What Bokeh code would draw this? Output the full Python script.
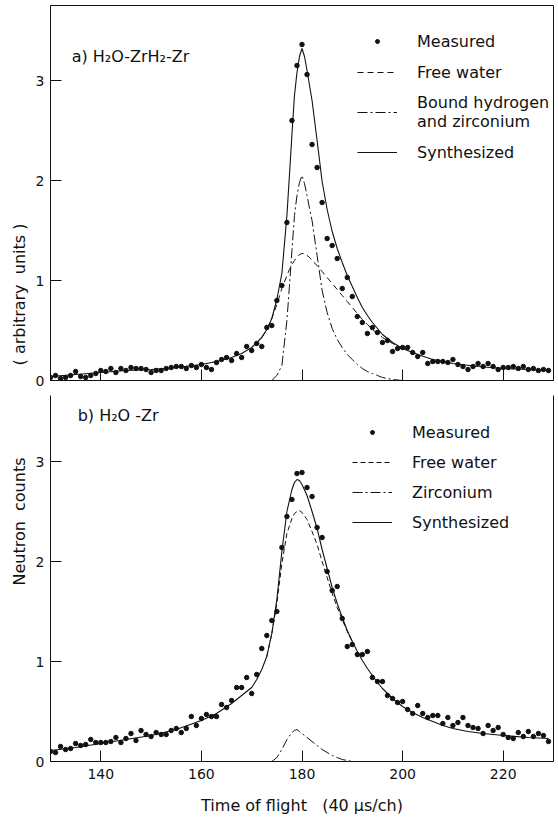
import numpy as np
from bokeh.plotting import figure
from bokeh.models import Range1d, FixedTicker, Legend, LegendItem, Label, LinearAxis
from bokeh.layouts import row, column
from bokeh.embed import file_html
from bokeh.resources import INLINE

FONT = "DejaVu Sans"
INK = "#111111"
NB = "\u00a0"

# ---------------- data ----------------
channels = list(range(130, 230))

# panel a) H2O-ZrH2-Zr
a_measured = [0.03, 0.05, 0.02, 0.03, 0.05, 0.09, 0.04, 0.03, 0.05, 0.07,
              0.10, 0.09, 0.12, 0.08, 0.12, 0.10, 0.13, 0.12, 0.12, 0.11,
              0.08, 0.10, 0.10, 0.12, 0.13, 0.14, 0.14, 0.12, 0.15, 0.13,
              0.16, 0.13, 0.11, 0.18, 0.21, 0.23, 0.20, 0.27, 0.23, 0.34,
              0.30, 0.37, 0.34, 0.53, 0.55, 0.80, 0.95, 1.58, 2.60, 3.15,
              3.36, 3.06, 2.36, 2.13, 1.78, 1.42, 1.35, 1.22, 0.92, 1.03,
              0.84, 0.64, 0.58, 0.47, 0.53, 0.48, 0.38, 0.40, 0.29, 0.32,
              0.33, 0.33, 0.28, 0.24, 0.28, 0.17, 0.19, 0.19, 0.19, 0.18,
              0.21, 0.16, 0.14, 0.11, 0.14, 0.17, 0.14, 0.17, 0.14, 0.11,
              0.13, 0.13, 0.14, 0.12, 0.14, 0.11, 0.12, 0.10, 0.11, 0.10]

a_synth_x = [130, 135, 140, 145, 150, 155, 160, 163, 166, 168, 170, 172, 173, 174,
             175, 176, 177, 177.5, 178, 178.5, 179, 179.5, 180, 180.5, 181, 181.5,
             182, 183, 184, 185, 186, 187, 188, 189, 190, 191, 192, 193, 194, 195,
             196, 198, 200, 203, 206, 210, 215, 220, 225, 229]
a_synth_y = [0.04, 0.06, 0.08, 0.10, 0.11, 0.13, 0.16, 0.19, 0.23, 0.27, 0.33, 0.43, 0.51, 0.62,
             0.81, 1.07, 1.65, 2.05, 2.46, 2.85, 3.08, 3.24, 3.32, 3.24, 3.10, 2.95,
             2.80, 2.40, 1.99, 1.71, 1.49, 1.32, 1.18, 1.05, 0.94, 0.83, 0.73, 0.65, 0.58, 0.52,
             0.46, 0.38, 0.32, 0.26, 0.21, 0.17, 0.14, 0.12, 0.11, 0.10]

a_free_x = [172, 173, 174, 175, 176, 177, 177.5, 178, 178.5, 179, 179.5, 180, 180.5,
            181, 181.5, 182, 183, 184, 185, 186, 187, 188, 189, 190, 191, 192, 193,
            194, 195, 196, 198, 200]
a_free_y = [0.43, 0.51, 0.62, 0.76, 0.92, 1.05, 1.11, 1.16, 1.20, 1.23, 1.26, 1.27, 1.27,
            1.25, 1.23, 1.20, 1.15, 1.09, 1.03, 0.97, 0.91, 0.85, 0.79, 0.73, 0.67, 0.61, 0.56,
            0.51, 0.47, 0.43, 0.37, 0.32]

a_bound_x = [174, 175, 176, 177, 177.5, 178, 178.5, 179, 179.5, 180, 180.5, 181, 181.5,
             182, 183, 184, 185, 186, 187, 188, 189, 190, 191, 192, 193, 194, 195,
             196, 198, 200]
a_bound_y = [0.0, 0.05, 0.15, 0.60, 0.94, 1.30, 1.65, 1.85, 1.98, 2.05, 1.97, 1.85, 1.72,
             1.60, 1.25, 0.90, 0.68, 0.52, 0.41, 0.33, 0.26, 0.21, 0.16, 0.12, 0.09, 0.07, 0.05,
             0.03, 0.01, 0.0]

# panel b) H2O-Zr
b_measured = [0.10, 0.09, 0.15, 0.12, 0.13, 0.18, 0.16, 0.17, 0.22, 0.19,
              0.19, 0.19, 0.20, 0.24, 0.19, 0.23, 0.28, 0.21, 0.31, 0.27,
              0.25, 0.29, 0.27, 0.27, 0.31, 0.33, 0.29, 0.33, 0.45, 0.36,
              0.43, 0.47, 0.45, 0.45, 0.57, 0.54, 0.61, 0.74, 0.74, 0.84,
              0.68, 0.87, 1.13, 1.26, 1.41, 1.50, 2.14, 2.45, 2.62, 2.88,
              2.89, 2.74, 2.65, 2.34, 2.24, 1.90, 1.71, 1.75, 1.43, 1.15,
              1.17, 1.07, 1.07, 1.10, 0.84, 0.80, 0.80, 0.66, 0.63, 0.59,
              0.60, 0.52, 0.48, 0.56, 0.48, 0.44, 0.46, 0.46, 0.38, 0.44,
              0.36, 0.39, 0.44, 0.36, 0.34, 0.33, 0.28, 0.36, 0.31, 0.34,
              0.27, 0.24, 0.23, 0.29, 0.25, 0.30, 0.25, 0.28, 0.26, 0.20]

b_synth_x = [130, 135, 140, 145, 150, 155, 160, 163, 166, 168, 170, 171, 172, 173, 174,
             175, 176, 177, 178, 178.5, 179, 179.5, 180, 181, 182, 183, 184, 185, 186,
             187, 188, 189, 190, 191, 192, 193, 194, 195, 196, 198, 200, 202, 204, 206,
             208, 210, 213, 216, 220, 225, 229]
b_synth_y = [0.11, 0.14, 0.18, 0.22, 0.26, 0.32, 0.41, 0.48, 0.58, 0.66, 0.74, 0.82, 0.92, 1.05, 1.28,
             1.62, 2.10, 2.50, 2.72, 2.79, 2.82, 2.81, 2.77, 2.66, 2.50, 2.33, 2.12, 1.93, 1.74,
             1.58, 1.44, 1.31, 1.20, 1.10, 1.01, 0.93, 0.86, 0.79, 0.73, 0.63, 0.55, 0.49, 0.44, 0.40,
             0.36, 0.33, 0.30, 0.28, 0.26, 0.24, 0.23]

b_free_x = [173, 174, 175, 176, 177, 178, 178.5, 179, 179.5, 180, 181, 182, 183, 184,
            185, 186, 187, 188, 189, 190]
b_free_y = [1.05, 1.28, 1.58, 1.98, 2.28, 2.43, 2.48, 2.50, 2.51, 2.49, 2.42, 2.30, 2.17, 2.00,
            1.84, 1.68, 1.54, 1.42, 1.30, 1.20]

b_zr_x = [174, 175, 176, 177, 178, 178.5, 179, 179.5, 180, 181, 182, 183, 184, 185,
          186, 187, 188, 189, 190]
b_zr_y = [0.0, 0.04, 0.12, 0.22, 0.29, 0.31, 0.32, 0.30, 0.28, 0.24, 0.20, 0.16, 0.12, 0.09,
          0.06, 0.04, 0.02, 0.01, 0.0]

x_ticks = [140, 160, 180, 200, 220]
y_ticks = [0, 1, 2, 3]

STRIP = 32          # width of the shared y-label strip
MAIN_W = 558 - STRIP

# ---------------- figures ----------------
def base_fig(height, ymax, border_bottom):
    p = figure(width=MAIN_W, height=height, x_range=Range1d(130, 230), y_range=Range1d(0, ymax),
               output_backend="svg", toolbar_location=None,
               min_border_left=50 - STRIP, min_border_right=5, min_border_top=5,
               min_border_bottom=border_bottom)
    p.grid.visible = False
    p.outline_line_color = INK
    for ax in (p.xaxis, p.yaxis):
        ax.axis_line_color = INK
        ax.major_tick_line_color = INK
        ax.major_tick_in = 11
        ax.major_tick_out = 0
        ax.minor_tick_line_color = None
        ax.major_label_text_font = FONT
        ax.major_label_text_font_size = "14px"
        ax.major_label_text_color = INK
    p.xaxis.ticker = FixedTicker(ticks=x_ticks)
    p.yaxis.ticker = FixedTicker(ticks=y_ticks)
    p.yaxis.major_label_standoff = 6
    return p

def style_legend(lg):
    lg.label_text_font = FONT
    lg.label_text_font_size = "16px"
    lg.label_text_color = INK
    lg.glyph_width = 40
    lg.glyph_height = 10
    lg.label_height = 20
    lg.label_standoff = 20
    lg.padding = 0
    lg.margin = 0
    lg.border_line_color = None
    lg.background_fill_alpha = 0

# top panel
pa = base_fig(390, 3.75, 10)
pa.xaxis.major_label_text_font_size = "1px"
pa.xaxis.major_label_text_color = None
pa.xaxis.major_label_standoff = 0
ra_pts = pa.scatter(channels, a_measured, size=4.5, color=INK)
ra_free = pa.line(a_free_x, a_free_y, line_color=INK, line_width=1, line_dash="6 4")
ra_bound = pa.line(a_bound_x, a_bound_y, line_color=INK, line_width=1, line_dash="10 3 2 3")
ra_syn = pa.line(a_synth_x, a_synth_y, line_color=INK, line_width=1.1)
pa.add_layout(Label(x=134.2, y=3.24, text="a) H₂O-ZrH₂-Zr", text_font=FONT,
                    text_font_size="16px", text_baseline="middle", text_color=INK))
lga = Legend(items=[LegendItem(label="Measured", renderers=[ra_pts]),
                    LegendItem(label="Free water", renderers=[ra_free]),
                    LegendItem(label="Bound hydrogen\nand zirconium", renderers=[ra_bound]),
                    LegendItem(label="Synthesized", renderers=[ra_syn])],
             location=(307, 218))
lga.spacing = 11
style_legend(lga)
pa.add_layout(lga)

# bottom panel
pb = base_fig(436, 3.66, 65)
pb.outline_line_color = None
pb.xaxis.major_label_standoff = 7
pb.xaxis.axis_label = "Time" + NB + "of" + NB + "flight" + NB * 3 + "(40" + NB + "µs/ch)"
pb.xaxis.axis_label_text_font = FONT
pb.xaxis.axis_label_text_font_size = "16px"
pb.xaxis.axis_label_text_font_style = "normal"
pb.xaxis.axis_label_text_color = INK
pb.xaxis.axis_label_standoff = 14
right_ax = LinearAxis(ticker=FixedTicker(ticks=[]), axis_line_color=INK,
                      major_tick_line_color=None, minor_tick_line_color=None,
                      major_label_text_font_size="1px", major_label_text_color=None,
                      major_label_standoff=0)
pb.add_layout(right_ax, "right")
rb_pts = pb.scatter(channels, b_measured, size=4.5, color=INK)
rb_free = pb.line(b_free_x, b_free_y, line_color=INK, line_width=1, line_dash="5 3")
rb_zr = pb.line(b_zr_x, b_zr_y, line_color=INK, line_width=1, line_dash="10 3 2 3")
rb_syn = pb.line(b_synth_x, b_synth_y, line_color=INK, line_width=1.1)
pb.add_layout(Label(x=135.4, y=3.46, text="b) H₂O -Zr", text_font=FONT,
                    text_font_size="16px", text_baseline="middle", text_color=INK))
lgb = Legend(items=[LegendItem(label="Measured", renderers=[rb_pts]),
                    LegendItem(label="Free water", renderers=[rb_free]),
                    LegendItem(label="Zirconium", renderers=[rb_zr]),
                    LegendItem(label="Synthesized", renderers=[rb_syn])],
             location=(302, 229))
lgb.spacing = 10
style_legend(lgb)
pb.add_layout(lgb)

# shared y label strip
pl = figure(width=STRIP, height=826, x_range=Range1d(0, STRIP), y_range=Range1d(0, 826),
            output_backend="svg", toolbar_location=None, min_border=0,
            x_axis_location=None, y_axis_location=None)
pl.grid.visible = False
pl.outline_line_color = None
pl.add_layout(Label(x=19, y=305, text="Neutron" + NB * 2 + "counts", angle=np.pi / 2,
                    text_align="center", text_baseline="middle", text_font=FONT,
                    text_font_size="16px", text_color=INK))
pl.add_layout(Label(x=19, y=532, text="(" + NB + "arbitrary" + NB * 2 + "units" + NB + ")",
                    angle=np.pi / 2,
                    text_align="center", text_baseline="middle", text_font=FONT,
                    text_font_size="16px", text_color=INK))

layout = row(pl, column(pa, pb, spacing=0), spacing=0)
open("out.html", "w").write(file_html(layout, INLINE))
